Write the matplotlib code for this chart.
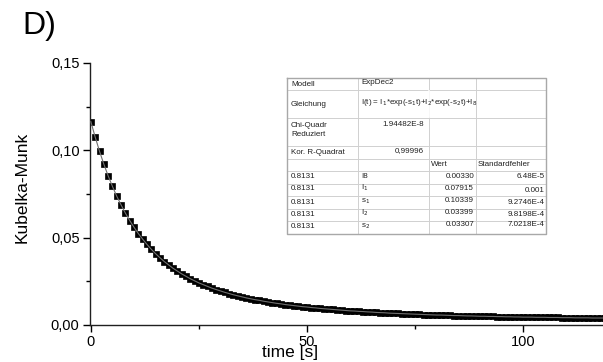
import matplotlib
matplotlib.use("Agg")
import matplotlib.pyplot as plt
from matplotlib.ticker import MultipleLocator, FuncFormatter

plt.rcParams['font.family'] = ['Liberation Sans', 'DejaVu Sans']

# ---- data ----
time_s = list(range(0, 120))
kubelka_munk = [
    0.1164, 0.1076, 0.0995, 0.0921, 0.0854, 0.0793, 0.0737, 0.0687, 0.0640, 0.0598,
    0.0559, 0.0523, 0.0491, 0.0461, 0.0433, 0.0408, 0.0385, 0.0363, 0.0344, 0.0325,
    0.0309, 0.0293, 0.0279, 0.0265, 0.0253, 0.0241, 0.0231, 0.0221, 0.0211, 0.0203,
    0.0195, 0.0187, 0.0180, 0.0173, 0.0167, 0.0161, 0.0155, 0.0150, 0.0145, 0.0141,
    0.0136, 0.0132, 0.0128, 0.0124, 0.0121, 0.0117, 0.0114, 0.0111, 0.0108, 0.0105,
    0.0103, 0.0100, 0.0098, 0.0095, 0.0093, 0.0091, 0.0089, 0.0087, 0.0085, 0.0083,
    0.0081, 0.0080, 0.0078, 0.0077, 0.0075, 0.0074, 0.0072, 0.0071, 0.0070, 0.0068,
    0.0067, 0.0066, 0.0065, 0.0064, 0.0063, 0.0062, 0.0061, 0.0060, 0.0059, 0.0058,
    0.0057, 0.0057, 0.0056, 0.0055, 0.0054, 0.0054, 0.0053, 0.0052, 0.0052, 0.0051,
    0.0050, 0.0050, 0.0049, 0.0049, 0.0048, 0.0048, 0.0047, 0.0047, 0.0046, 0.0046,
    0.0045, 0.0045, 0.0045, 0.0044, 0.0044, 0.0044, 0.0043, 0.0043, 0.0043, 0.0042,
    0.0042, 0.0042, 0.0041, 0.0041, 0.0041, 0.0041, 0.0040, 0.0040, 0.0040, 0.0040,
]

y_ticks = [0.00, 0.05, 0.10, 0.15]
x_ticks = [0, 50, 100]

# fit-result table (text content)
table_top = [
    ("Modell", "ExpDec2"),
    ("Gleichung", r"I(t) = I$_1$*exp(-s$_1$t)+I$_2$*exp(-s$_2$t)+I$_8$"),
    ("Chi-Quadr\nReduziert", "1.94482E-8"),
    ("Kor. R-Quadrat", "0,99996"),
]
param_col1 = ["0.8131", "0.8131", "0.8131", "0.8131", "0.8131"]
param_names = ["I8", r"I$_1$", r"s$_1$", r"I$_2$", r"s$_2$"]
param_values = ["0.00330", "0.07915", "0.10339", "0.03399", "0.03307"]
param_errors = ["6.48E-5", "0.001", "9.2746E-4", "9.8198E-4", "7.0218E-4"]

W, H = 603, 362
fig = plt.figure(figsize=(W / 100, H / 100), dpi=100)
ax = fig.add_axes([90 / W, 1 - 325 / H, (W - 90) / W, (325 - 63) / H])

ax.plot(time_s, kubelka_munk, ls='none', marker='s', ms=4.7, mfc='black',
        mec='black', mew=0.5, zorder=2)
ax.plot(time_s, kubelka_munk, color='#707070', lw=0.8, zorder=3)

ax.set_xlim(-0.2, 118.5)
ax.set_ylim(0, 0.15)
ax.set_yticks(y_ticks)
ax.set_xticks(x_ticks)
ax.yaxis.set_minor_locator(MultipleLocator(0.025))
ax.xaxis.set_minor_locator(MultipleLocator(25))
ax.yaxis.set_major_formatter(FuncFormatter(lambda v, p: f"{v:.2f}".replace('.', ',')))
for s in ['top', 'right']:
    ax.spines[s].set_visible(False)
for s in ['left', 'bottom']:
    ax.spines[s].set_linewidth(1.0)
    ax.spines[s].set_color('#202020')
ax.tick_params(which='major', direction='out', length=5, width=1, labelsize=10.5, pad=2.5)
ax.tick_params(which='minor', direction='out', length=3, width=1)
ax.patch.set_alpha(0)

fig.text(22 / W, 1 - 187 / H, "Kubelka-Munk", rotation=90, ha='center', va='center', fontsize=12.5)
fig.text(290 / W, 1 - 352 / H, "time [s]", ha='center', va='center', fontsize=12.5)
fig.text(22 / W, 1 - 26 / H, "D)", ha='left', va='center', fontsize=23)

# ---- table overlay in pixel coordinates ----
ov = fig.add_axes([0, 0, 1, 1])
ov.set_xlim(0, W)
ov.set_ylim(H, 0)
ov.axis('off')
ov.patch.set_alpha(0)

L, R, T, B = 287, 546, 78, 234
cols = [L, 358, 429, 476, R]
rows = [T, 90, 118, 146, 159, 171, 184, 196, 209, 221, B]
ov.fill_between([L, R], T, B, color='white', zorder=4)
gc = '#d0d0d0'
for yv in rows[1:-1]:
    ov.plot([L, R], [yv, yv], color=gc, lw=0.7, zorder=5)
for xv in cols[1:-1]:
    ov.plot([xv, xv], [T, B], color=gc, lw=0.7, zorder=5)
ov.plot([L, R, R, L, L], [T, T, B, B, T], color='#a8a8a8', lw=1.0, zorder=6)
# equation cell spans columns 2-3 in row 2: cover the line
ov.plot([429, 429], [90.6, 117.4], color='white', lw=1.2, zorder=5.5)

fs = 5.8
tc = '#202020'
ov.text(291, 84, table_top[0][0], fontsize=fs, va='center', color=tc, zorder=7)
ov.text(361, 83, table_top[0][1], fontsize=fs, va='center', color=tc, zorder=7)
ov.text(291, 104, table_top[1][0], fontsize=fs, va='center', color=tc, zorder=7)
ov.text(361, 103, table_top[1][1], fontsize=fs, va='center', color=tc, zorder=7)
ov.text(291, 130, table_top[2][0], fontsize=fs, va='center', color=tc, zorder=7, linespacing=1.5)
ov.text(424, 124, table_top[2][1], fontsize=fs, va='center', ha='right', color=tc, zorder=7)
ov.text(291, 152, table_top[3][0], fontsize=fs, va='center', color=tc, zorder=7)
ov.text(424, 151, table_top[3][1], fontsize=fs, va='center', ha='right', color=tc, zorder=7)
ov.text(431, 164, "Wert", fontsize=fs, va='center', color=tc, zorder=7)
ov.text(478, 164, "Standardfehler", fontsize=fs, va='center', color=tc, zorder=7)

row_mid = [177, 189, 202, 214, 227]
err_y = [177, 190, 203, 214, 225]
val_y = [176, 188, 200, 212, 224]
for i in range(5):
    ov.text(291, row_mid[i], param_col1[i], fontsize=fs, va='center', color=tc, zorder=7)
    ov.text(361, row_mid[i] - 1, param_names[i], fontsize=fs, va='center', color=tc, zorder=7)
    ov.text(474, val_y[i], param_values[i], fontsize=fs, va='center', ha='right', color=tc, zorder=7)
    ov.text(545, err_y[i], param_errors[i], fontsize=fs, va='center', ha='right', color=tc, zorder=7)

fig.savefig("out.png", dpi=100)
